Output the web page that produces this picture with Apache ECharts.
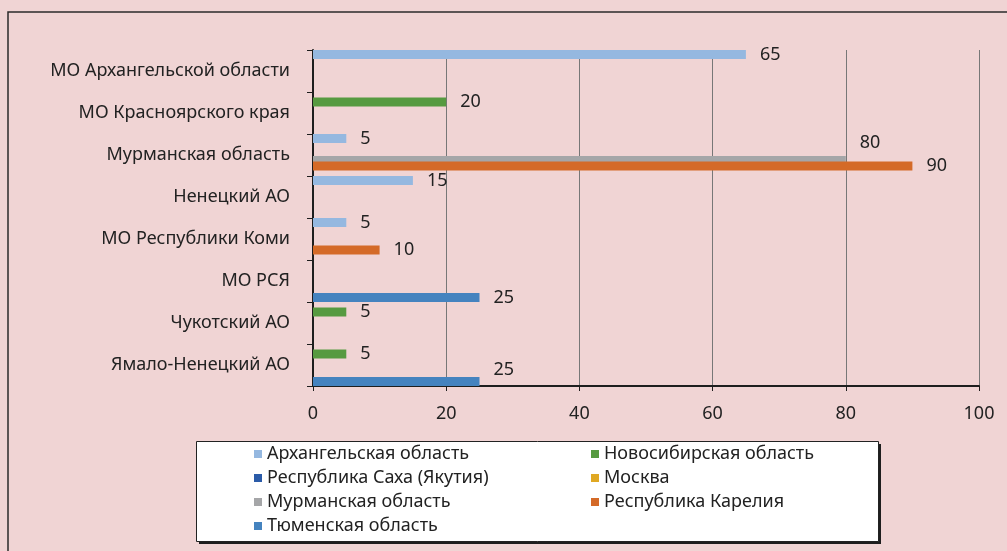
<!DOCTYPE html>
<html>
<head>
<meta charset="utf-8">
<script src="https://cdn.jsdelivr.net/npm/echarts@6/dist/echarts.min.js"></script>
<style>
  html, body { margin: 0; padding: 0; background: #f0d4d4; }
  #chart { width: 1007px; height: 551px; }
</style>
</head>
<body>
<div id="chart"></div>
<script>
// categories, top to bottom
const categories = [
  "МО Архангельской области",
  "МО Красноярского края",
  "Мурманская область",
  "Ненецкий АО",
  "МО Республики Коми",
  "МО РСЯ",
  "Чукотский АО",
  "Ямало-Ненецкий АО"
];

const seriesNames = [
  "Архангельская область",
  "Новосибирская область",
  "Республика Саха (Якутия)",
  "Москва",
  "Мурманская область",
  "Республика Карелия",
  "Тюменская область"
];

// null = no bar
const arkhangelsk = [65, null, 5, 15, 5, null, null, null];
const novosibirsk = [null, 20, null, null, null, null, 5, 5];
const sakha = [null, null, null, null, null, null, null, null];
const moscow = [null, null, null, null, null, null, null, null];
const murmansk = [null, null, 80, null, null, null, null, null];
const karelia = [null, null, 90, null, 10, null, null, null];
const tyumen = [null, null, null, null, null, 25, null, 25];

const xTicks = { min: 0, max: 100, interval: 20 };

const colors = ["#95b8e0", "#569a40", "#2b5ba8", "#e0a823", "#a5a6a8", "#d46a28", "#4583bf"];
const values = [arkhangelsk, novosibirsk, sakha, moscow, murmansk, karelia, tyumen];

// labels that Excel pushed up to avoid overlap
const labelShift = { "4-2": -18, "6-7": -12 };

const font = "Noto Sans";
const textColor = "#222";

const chart = echarts.init(document.getElementById("chart"));

const legendStyle = {
  orient: "vertical",
  top: 445,
  padding: 0,
  itemWidth: 8, itemHeight: 8, itemGap: 6,
  icon: "rect",
  textStyle: { fontSize: 18, lineHeight: 18, color: textColor, fontFamily: font }
};

const option = {
  backgroundColor: "#f0d4d4",
  animation: false,
  color: colors,
  textStyle: { fontFamily: font },
  grid: { left: 313, right: 28, top: 50, bottom: 165 },
  graphic: [
    {
      type: "rect",
      shape: { x: 8, y: 12, width: 1100, height: 600 },
      style: { fill: "none", stroke: "#2a2a2a", lineWidth: 1.5 },
      silent: true
    },
    {
      // legend box shadow
      type: "rect",
      shape: { x: 199, y: 444, width: 682, height: 100 },
      style: { fill: "#1e1e1e" },
      silent: true
    },
    {
      type: "rect",
      shape: { x: 196.5, y: 441.5, width: 682, height: 100 },
      style: { fill: "#ffffff", stroke: "#222", lineWidth: 1 },
      silent: true
    }
  ],
  legend: [
    Object.assign({}, legendStyle, {
      left: 254,
      data: [seriesNames[0], seriesNames[2], seriesNames[4], seriesNames[6]]
    }),
    Object.assign({}, legendStyle, {
      left: 591,
      data: [seriesNames[1], seriesNames[3], seriesNames[5]]
    })
  ],
  xAxis: {
    type: "value",
    min: xTicks.min,
    max: xTicks.max,
    interval: xTicks.interval,
    axisLine: { show: true, lineStyle: { color: "#1e1e1e", width: 2 } },
    axisTick: { show: true, length: 5, lineStyle: { color: "#1e1e1e", width: 1 } },
    axisLabel: { fontSize: 18, color: textColor, margin: 19, fontFamily: font },
    splitLine: { show: true, lineStyle: { color: "#777", width: 1 } }
  },
  yAxis: {
    type: "category",
    inverse: true,
    data: categories,
    axisLine: { show: true, lineStyle: { color: "#1e1e1e", width: 2 } },
    axisTick: { show: true, length: 6, lineStyle: { color: "#1e1e1e", width: 1 } },
    axisLabel: { fontSize: 18, color: textColor, margin: 23, fontFamily: font }
  },
  series: seriesNames.map((name, si) => ({
    type: "bar",
    name: name,
    barWidth: 9,
    barGap: "-39%",
    data: values[si].map((v, ci) => {
      const shift = labelShift[si + "-" + ci];
      if (shift === undefined) return v;
      return { value: v, label: { offset: [0, shift] } };
    }),
    label: {
      show: true,
      position: "right",
      distance: 14,
      fontSize: 18,
      color: textColor,
      fontFamily: font
    }
  }))
};

chart.setOption(option);
</script>
</body>
</html>
